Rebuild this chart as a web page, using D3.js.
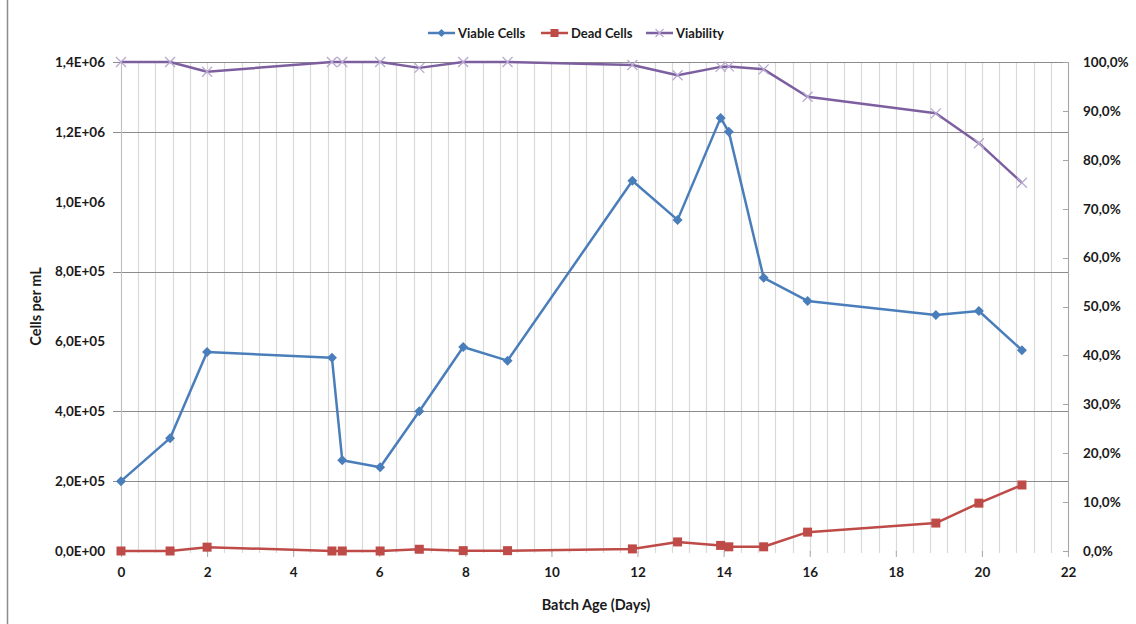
<!DOCTYPE html>
<html>
<head>
<meta charset="utf-8">
<script src="https://cdn.jsdelivr.net/npm/d3@7"></script>
<style>
  html, body { margin: 0; padding: 0; background: #fff; }
  svg text { font-family: Lato, "Open Sans", sans-serif; font-weight: bold; fill: #1a1a1a; }
</style>
</head>
<body>
<svg id="chart" width="1136" height="624"></svg>
<script>
// ---- data ----
const days      = [0, 1.14, 2.0, 4.9, 5.14, 6.02, 6.93, 7.95, 8.98, 11.88, 12.93, 13.93, 14.12, 14.93, 15.95, 18.93, 19.93, 20.93];
const viable    = [2.0e5, 3.23e5, 5.70e5, 5.53e5, 2.6e5, 2.40e5, 4.0e5, 5.84e5, 5.45e5, 1.06e6, 9.48e5, 1.24e6, 1.20e6, 7.82e5, 7.16e5, 6.76e5, 6.87e5, 5.75e5];
const dead      = [0, 0, 1.1e4, 0, 0, 0, 5e3, 1e3, 1e3, 6e3, 2.6e4, 1.6e4, 1.2e4, 1.2e4, 5.4e4, 8.0e4, 1.37e5, 1.89e5];
const viability = [1.0, 1.0, 0.98, 1.0, 1.0, 1.0, 0.988, 1.0, 1.0, 0.994, 0.973, 0.99, 0.991, 0.985, 0.929, 0.895, 0.834, 0.753];
const xTicks     = [0, 2, 4, 6, 8, 10, 12, 14, 16, 18, 20, 22];
const yLeftTicks = [0, 2e5, 4e5, 6e5, 8e5, 1.0e6, 1.2e6, 1.4e6];
const yGridLines = [2e5, 4e5, 8e5, 1.2e6, 1.4e6];
const yRightTicks = [0, 0.1, 0.2, 0.3, 0.4, 0.5, 0.6, 0.7, 0.8, 0.9, 1.0];
const seriesNames = ["Viable Cells", "Dead Cells", "Viability"];
const colors = { viable: "#4a7ebb", dead: "#be4b48", viab: "#7d5fa0", viabMarker: "#b9a9d1" };

// ---- layout ----
const svg = d3.select("#chart");
const L = 121, R = 1068, T = 62, B = 551;
const x = d3.scaleLinear().domain([0, 22]).range([L, R]);
const yL = d3.scaleLinear().domain([0, 1.4e6]).range([B, T]);
const yR = d3.scaleLinear().domain([0, 1]).range([B, T]);

const sci = v => {
  if (v === 0) return "0,0E+00";
  const e = Math.floor(Math.log10(v) + 1e-9);
  const m = v / Math.pow(10, e);
  return m.toFixed(1).replace(".", ",") + "E+" + String(e).padStart(2, "0");
};
const pct = v => (v * 100).toFixed(1).replace(".", ",") + "%";

// outer frame
svg.append("line").attr("x1", 7.5).attr("x2", 7.5).attr("y1", 0).attr("y2", 624)
  .attr("stroke", "#8c8c8c").attr("stroke-width", 1.5);

// minor vertical gridlines every 0.4 day
const minor = d3.range(0, 56).map(i => i * 0.4);
svg.append("g").selectAll("line").data(minor).join("line")
  .attr("x1", d => Math.round(x(d)) + 0.5).attr("x2", d => Math.round(x(d)) + 0.5)
  .attr("y1", T).attr("y2", B + 2)
  .attr("stroke", "#d9d9d9").attr("stroke-width", 1.2);

// horizontal gridlines
svg.append("g").selectAll("line").data(yGridLines).join("line")
  .attr("x1", L - 8).attr("x2", R)
  .attr("y1", d => Math.round(yL(d)) + 0.5).attr("y2", d => Math.round(yL(d)) + 0.5)
  .attr("stroke", "#8c8c8c").attr("stroke-width", 1.2);

// axes lines
svg.append("line").attr("x1", L + 0.5).attr("x2", L + 0.5).attr("y1", T).attr("y2", B)
  .attr("stroke", "#bfbfbf");
svg.append("line").attr("x1", R + 0.5).attr("x2", R + 0.5).attr("y1", T).attr("y2", B)
  .attr("stroke", "#a6a6a6");

// x axis ticks & labels
const gx = svg.append("g").attr("transform", `translate(0,${B})`)
  .call(d3.axisBottom(x).tickValues(xTicks).tickSize(6).tickPadding(10).tickFormat(d => d));
gx.select(".domain").remove();
gx.selectAll(".tick line").attr("stroke", "#a6a6a6");
gx.selectAll(".tick text").style("font-size", "13.5px").attr("fill", "#1a1a1a");

// left axis labels
const gl = svg.append("g").attr("transform", `translate(${L},0)`)
  .call(d3.axisLeft(yL).tickValues(yLeftTicks).tickSize(0).tickPadding(16).tickFormat(sci));
gl.select(".domain").remove();
gl.selectAll(".tick text").style("font-size", "13.5px").attr("fill", "#1a1a1a");

// right axis
const gr = svg.append("g").attr("transform", `translate(${R},0)`)
  .call(d3.axisRight(yR).tickValues(yRightTicks).tickSize(0).tickPadding(15).tickFormat(pct));
gr.select(".domain").remove();
gr.selectAll(".tick text").style("font-size", "13.5px").attr("fill", "#1a1a1a");
svg.append("g").selectAll("line").data(yRightTicks).join("line")
  .attr("x1", R - 5).attr("x2", R)
  .attr("y1", d => Math.round(yR(d)) + 0.5).attr("y2", d => Math.round(yR(d)) + 0.5)
  .attr("stroke", "#a6a6a6");

// axis titles
svg.append("text").attr("x", 596).attr("y", 610).attr("text-anchor", "middle")
  .style("font-size", "14.5px").text("Batch Age (Days)");
svg.append("text").attr("transform", `translate(41,${(T + B) / 2}) rotate(-90)`)
  .attr("text-anchor", "middle").style("font-size", "14.5px").text("Cells per mL");

// series
const pts = (arr) => days.map((d, i) => [d, arr[i]]);
const lineL = d3.line().x(d => x(d[0])).y(d => yL(d[1]));
const lineR = d3.line().x(d => x(d[0])).y(d => yR(d[1]));

// viability
svg.append("path").attr("d", lineR(pts(viability))).attr("fill", "none")
  .attr("stroke", colors.viab).attr("stroke-width", 2.5).attr("stroke-linejoin", "round");
const crossPath = "M-5,-5L5,5M-5,5L5,-5";
svg.append("g").selectAll("path").data(pts(viability)).join("path")
  .attr("transform", d => `translate(${x(d[0])},${yR(d[1])})`)
  .attr("d", crossPath).attr("stroke", colors.viabMarker).attr("stroke-width", 1.3).attr("fill", "none");

// viable
svg.append("path").attr("d", lineL(pts(viable))).attr("fill", "none")
  .attr("stroke", colors.viable).attr("stroke-width", 2.5).attr("stroke-linejoin", "round");
svg.append("g").selectAll("path").data(pts(viable)).join("path")
  .attr("transform", d => `translate(${x(d[0])},${yL(d[1])})`)
  .attr("d", "M0,-5L5,0L0,5L-5,0Z").attr("fill", colors.viable);

// dead
svg.append("path").attr("d", lineL(pts(dead))).attr("fill", "none")
  .attr("stroke", colors.dead).attr("stroke-width", 2.5).attr("stroke-linejoin", "round");
svg.append("g").selectAll("rect").data(pts(dead)).join("rect")
  .attr("x", d => x(d[0]) - 4.5).attr("y", d => yL(d[1]) - 4.5)
  .attr("width", 9).attr("height", 9).attr("fill", colors.dead);

// legend
const legendItems = [
  { name: seriesNames[0], x: 428, color: colors.viable, marker: "diamond" },
  { name: seriesNames[1], x: 541, color: colors.dead, marker: "square" },
  { name: seriesNames[2], x: 646, color: colors.viab, marker: "cross" }
];
const lg = svg.append("g").attr("transform", "translate(0,33)");
legendItems.forEach(it => {
  const g = lg.append("g").attr("transform", `translate(${it.x},0)`);
  g.append("line").attr("x1", 0).attr("x2", 27).attr("y1", 0).attr("y2", 0)
    .attr("stroke", it.color).attr("stroke-width", 2.5);
  if (it.marker === "diamond") g.append("path").attr("d", "M13.5,-4L17.5,0L13.5,4L9.5,0Z").attr("fill", it.color);
  if (it.marker === "square") g.append("rect").attr("x", 9.5).attr("y", -4).attr("width", 8).attr("height", 8).attr("fill", it.color);
  if (it.marker === "cross") g.append("path").attr("d", "M9.5,-4L17.5,4M9.5,4L17.5,-4").attr("stroke", colors.viabMarker).attr("stroke-width", 1.3);
  g.append("text").attr("x", 30).attr("y", 4.5).style("font-size", "13px").text(it.name);
});
</script>
</body>
</html>
